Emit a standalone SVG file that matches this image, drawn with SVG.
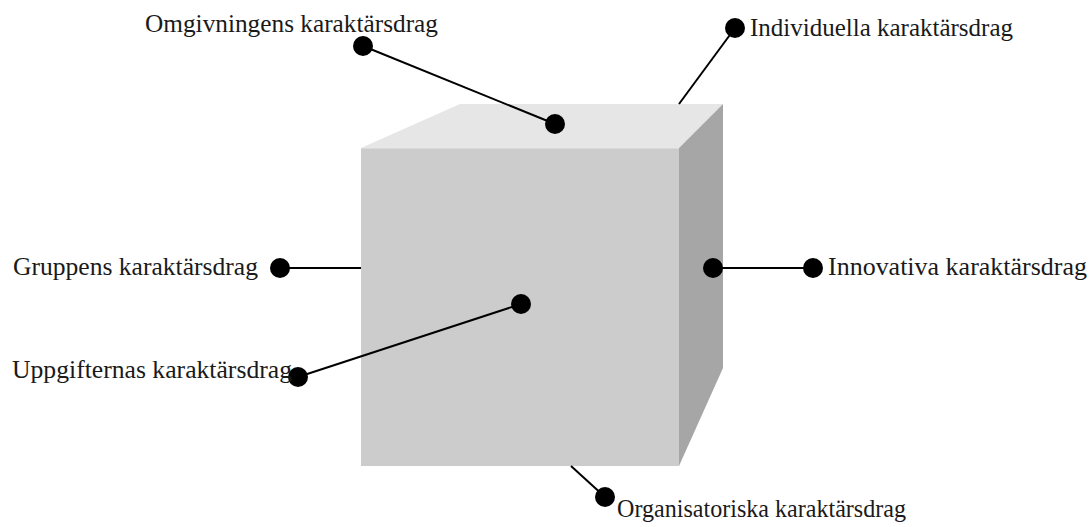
<svg xmlns="http://www.w3.org/2000/svg" width="1090" height="527" viewBox="0 0 1090 527">
  <style>
    .lbl { font-family: "Liberation Serif", "DejaVu Serif", serif; font-size: 25px; fill: #1a1a1a; }
    .conn { stroke: #000; stroke-width: 2; fill: none; }
    .dot { fill: #000; }
  </style>
  <rect width="1090" height="527" fill="#fff"/>

  <!-- cube -->
  <g id="cube">
    <polygon points="361,148 460,104 723,104 679,148" fill="#e6e6e6"/>
    <polygon points="679,148 723,104 723,368 679,466" fill="#a6a6a6"/>
    <rect x="361" y="148" width="318" height="318" fill="#cccccc"/>
    <line x1="361" y1="148.5" x2="679" y2="148.5" stroke="#dadada" stroke-width="1"/>
  </g>

  <!-- connectors -->
  <g id="connectors">
    <line class="conn" x1="363" y1="46" x2="555" y2="124"/>
    <line class="conn" x1="735" y1="28" x2="679" y2="104"/>
    <line class="conn" x1="280" y1="268" x2="361" y2="268"/>
    <line class="conn" x1="713" y1="268" x2="813" y2="268"/>
    <line class="conn" x1="298" y1="377" x2="521" y2="304"/>
    <line class="conn" x1="571" y1="466" x2="605" y2="497"/>
  </g>

  <g id="omgivningens">
    <circle class="dot" cx="363" cy="46" r="10"/>
    <circle class="dot" cx="555" cy="124" r="10"/>
    <text class="lbl" x="145" y="32" textLength="293" lengthAdjust="spacingAndGlyphs">Omgivningens karaktärsdrag</text>
  </g>
  <g id="individuella">
    <circle class="dot" cx="735" cy="28" r="10"/>
    <text class="lbl" x="750" y="36" textLength="263" lengthAdjust="spacingAndGlyphs">Individuella karaktärsdrag</text>
  </g>
  <g id="gruppens">
    <circle class="dot" cx="280" cy="268" r="10"/>
    <text class="lbl" x="13" y="275" textLength="245" lengthAdjust="spacingAndGlyphs">Gruppens karaktärsdrag</text>
  </g>
  <g id="innovativa">
    <circle class="dot" cx="713" cy="268" r="10"/>
    <circle class="dot" cx="813" cy="268" r="10"/>
    <text class="lbl" x="828" y="275" textLength="259" lengthAdjust="spacingAndGlyphs">Innovativa karaktärsdrag</text>
  </g>
  <g id="uppgifternas">
    <circle class="dot" cx="521" cy="304" r="10"/>
    <circle class="dot" cx="298" cy="377" r="10"/>
    <text class="lbl" x="12" y="378" textLength="280" lengthAdjust="spacingAndGlyphs">Uppgifternas karaktärsdrag</text>
  </g>
  <g id="organisatoriska">
    <circle class="dot" cx="605" cy="497" r="10"/>
    <text class="lbl" x="617" y="517" textLength="289" lengthAdjust="spacingAndGlyphs">Organisatoriska karaktärsdrag</text>
  </g>
</svg>
